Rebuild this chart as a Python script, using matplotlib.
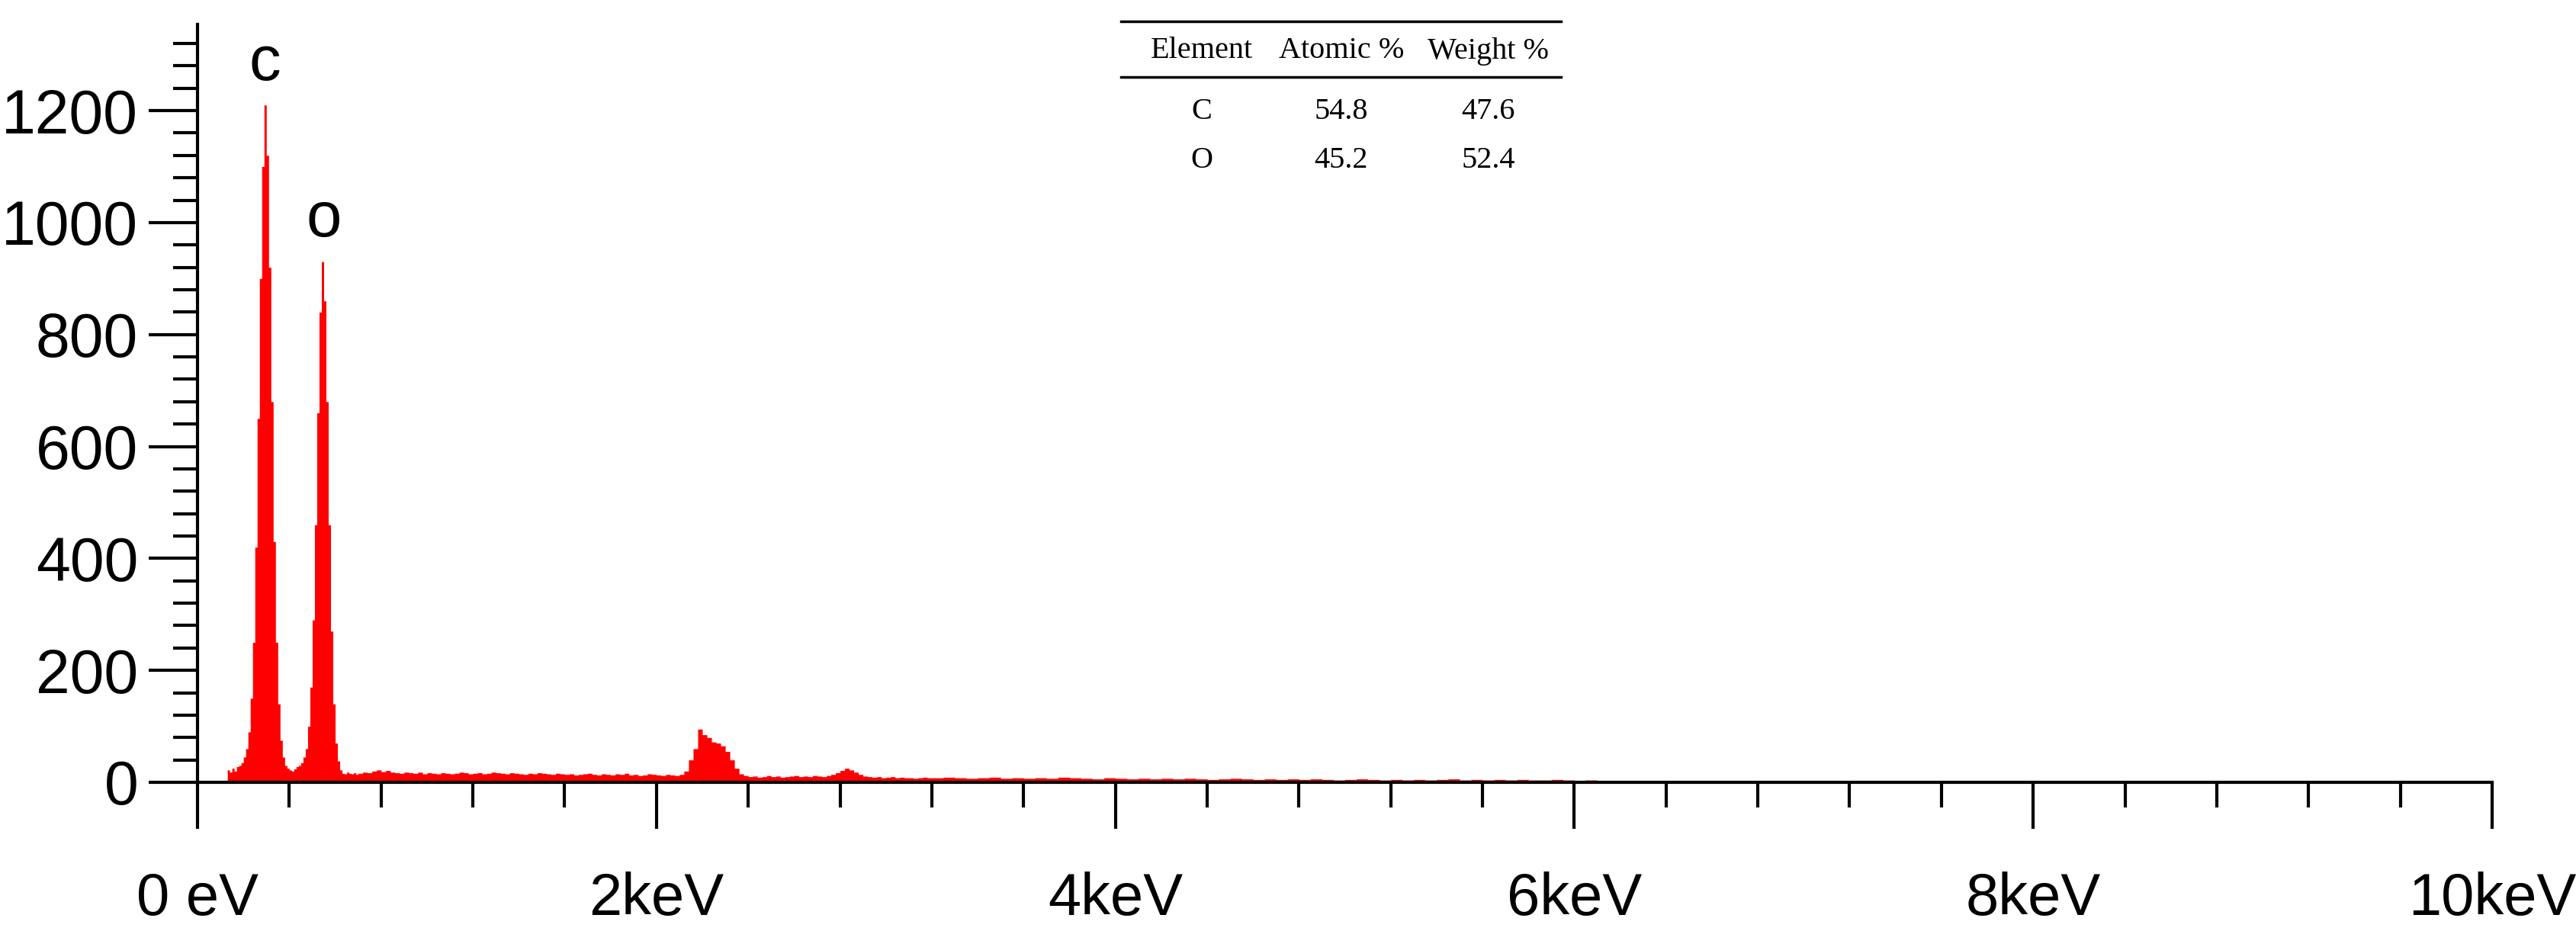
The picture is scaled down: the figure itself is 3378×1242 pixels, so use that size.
import matplotlib
matplotlib.use("Agg")
import matplotlib.pyplot as plt
import numpy as np
from matplotlib.ticker import MultipleLocator, FixedLocator

# ---- spectrum data (keV, counts) ----
# fine region 0.13 - 0.69 keV, 0.01 keV bins
fine_e0, fine_step = 0.13, 0.01
fine_counts = [
    22, 18, 25, 20, 28, 30, 35,                               # 0.13-0.19
    45, 60, 90, 150, 250, 420, 650, 900, 1100, 1210,          # 0.20-0.29
    1120, 920, 680, 430, 250, 140, 75, 45, 30, 25,            # 0.30-0.39
    22, 20, 24, 28, 30, 35, 45, 60, 100, 170,                 # 0.40-0.49
    290, 460, 660, 840, 930, 860, 680, 460, 270, 140,         # 0.50-0.59
    70, 38, 22, 16, 15, 18, 16, 15, 17, 14,                   # 0.60-0.69
]
# mid region 0.70 - 3.20 keV, 0.02 keV bins
mid_e0, mid_step = 0.70, 0.02
mid_counts = [
    16, 18, 17, 20, 22, 19, 21, 18, 17, 16, 18, 17, 16, 18, 15, 17, 16, 15, 17, 16,
    15, 16, 18, 17, 15, 16, 17, 15, 16, 18, 17, 16, 15, 17, 16, 15, 14, 16, 15, 17,
    16, 15, 14, 16, 15, 14, 15, 13, 14, 15, 16, 14, 13, 15, 14, 13, 15, 14, 16, 13,
    14, 12, 13, 15, 14, 13, 12, 14, 13, 12, 14, 20, 40, 60, 95, 85, 80, 72, 70, 65,
    55, 40, 25, 15, 12, 10, 11, 9, 10, 12, 10, 11, 9, 10, 11, 12, 10, 11, 10, 12,
    11, 10, 12, 14, 17, 21, 25, 22, 18, 14, 11, 10, 9, 10, 8, 9, 10, 8, 9, 8,
    8, 7, 8, 9, 8,
]
# coarse region 3.20 - 10.0 keV, 0.05 keV bins
coarse_e0, coarse_step = 3.20, 0.05
coarse_counts = [
    8, 9, 8, 7, 8, 9, 7, 8, 7, 8, 7, 9, 8, 7, 6, 8, 7, 6, 7, 6,
    7, 6, 7, 6, 5, 6, 7, 6, 5, 6, 5, 6, 5, 6, 5, 4, 5, 6, 5, 4,
    5, 4, 5, 4, 5, 6, 4, 5, 4, 5, 4, 5, 4, 4, 5, 4, 3, 4, 3, 2,
    3, 2, 2, 3, 2, 2, 3, 2, 2, 3, 2, 2, 3, 2, 2, 3, 2, 2, 2, 3,
    2, 2, 2, 3, 2, 2, 2, 2, 3, 2, 2, 2, 2, 2, 2, 2, 2, 2, 2, 2,
    2, 2, 2, 2, 2, 2, 2, 2, 2, 2, 2, 2, 2, 2, 2, 2, 2, 2, 2, 2,
    2, 2, 2, 2, 2, 2, 2, 2, 2, 2, 2, 2, 2, 2, 2, 2,
]

peak_labels = ["c", "o"]
peak_pos = [(0.295, 1285), (0.552, 1005)]

x_ticks = [0, 2, 4, 6, 8, 10]
x_tick_labels = ["0 eV", "2keV", "4keV", "6keV", "8keV", "10keV"]

table_header = ["Element", "Atomic %", "Weight %"]
table_rows = [["C", "54.8", "47.6"], ["O", "45.2", "52.4"]]


def build(e0, step, counts):
    e = e0 + step * np.arange(len(counts))
    return e, np.asarray(counts, dtype=float)


segs = [build(fine_e0, fine_step, fine_counts),
        build(mid_e0, mid_step, mid_counts),
        build(coarse_e0, coarse_step, coarse_counts)]
energy = np.concatenate([s[0] for s in segs])
counts = np.concatenate([s[1] for s in segs])

W, H = 3378, 1242
fig = plt.figure(figsize=(W / 100, H / 100), dpi=100)
ax = fig.add_axes([259 / W, 1 - 1026 / H, (3268 - 259) / W, (1026 - 32) / H])

ax.fill_between(energy, counts, step="post", color="#ff0000", lw=0)

ax.set_xlim(0, 10)
ax.set_ylim(0, 1354)

for s in ["top", "right"]:
    ax.spines[s].set_visible(False)
for s in ["left", "bottom"]:
    ax.spines[s].set_linewidth(3)

ax.xaxis.set_major_locator(FixedLocator(x_ticks))
ax.set_xticklabels(x_tick_labels)
ax.xaxis.set_minor_locator(MultipleLocator(0.4))
ax.yaxis.set_major_locator(MultipleLocator(200))
ax.yaxis.set_minor_locator(MultipleLocator(40))

ax.tick_params(axis="x", which="major", direction="out", length=44, width=3,
               pad=40, labelsize=56)
ax.tick_params(axis="x", which="minor", direction="out", length=24, width=3)
ax.tick_params(axis="y", which="major", direction="out", length=46, width=3,
               pad=10, labelsize=58)
ax.tick_params(axis="y", which="minor", direction="out", length=23, width=3)
for lab in ax.get_xticklabels() + ax.get_yticklabels():
    lab.set_family("Liberation Sans")

for lab, (x, y) in zip(peak_labels, peak_pos):
    ax.text(x, y, lab, ha="center", va="center", fontsize=60,
            family="Liberation Sans")

# element table
col_x = [1576 / W, 1759 / W, 1952 / W]
fig.add_artist(plt.Line2D([1470 / W, 2047 / W], [1 - 28 / H] * 2, color="black", lw=2.5))
fig.add_artist(plt.Line2D([1470 / W, 2047 / W], [1 - 101 / H] * 2, color="black", lw=2.5))
for cx, txt in zip(col_x, table_header):
    fig.text(cx, 1 - 67 / H, txt, ha="center", va="center", fontsize=29,
             family="Liberation Serif")
for ry, row in zip([147, 210], table_rows):
    for cx, txt in zip(col_x, row):
        fig.text(cx, 1 - ry / H, txt, ha="center", va="center", fontsize=29,
                 family="Liberation Serif")

fig.savefig("out.png", dpi=100)
